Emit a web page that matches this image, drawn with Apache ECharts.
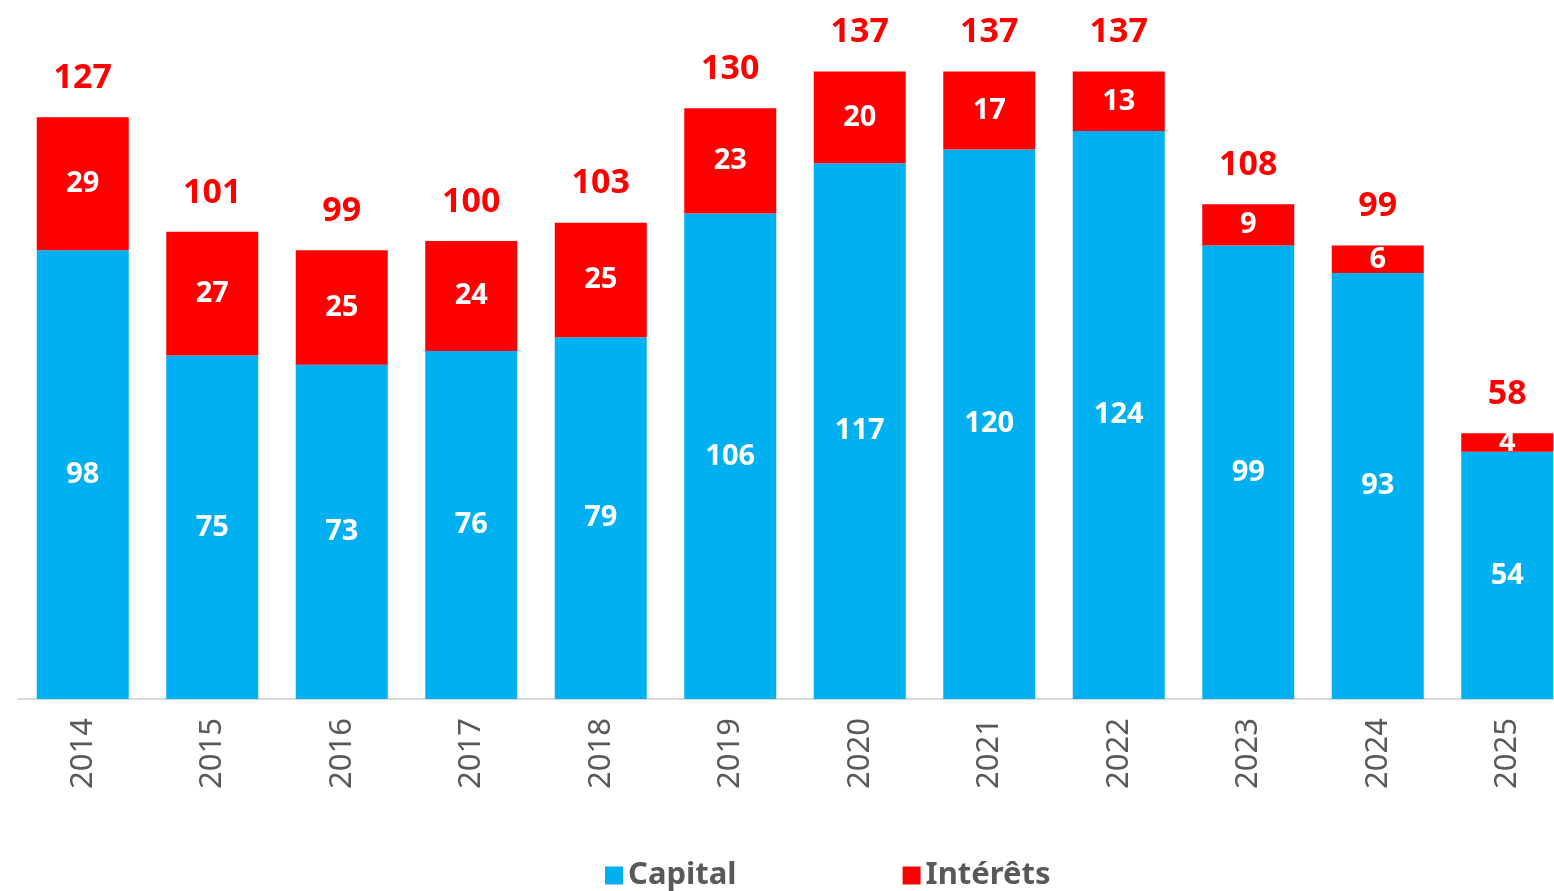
<!DOCTYPE html>
<html>
<head>
<meta charset="utf-8">
<script src="https://cdn.jsdelivr.net/npm/echarts@6/dist/echarts.min.js"></script>
<style>
  html, body { margin: 0; padding: 0; background: #fff; overflow: hidden; }
  /* le graphique source est coupé à droite : conteneur un peu plus large que la fenêtre */
  #chart { width: 1572px; height: 891px; }
</style>
</head>
<body>
<div id="chart"></div>
<script>
// années
var years = ['2014', '2015', '2016', '2017', '2018', '2019', '2020', '2021', '2022', '2023', '2024', '2025'];
// capital remboursé
var capital = [98, 75, 73, 76, 79, 106, 117, 120, 124, 99, 93, 54];
// intérêts
var interets = [29, 27, 25, 24, 25, 23, 20, 17, 13, 9, 6, 4];
// annuité totale (arrondie)
var totals = [127, 101, 99, 100, 103, 130, 137, 137, 137, 108, 99, 58];

var font = '"Noto Sans", "DejaVu Sans", sans-serif';

var chart = echarts.init(document.getElementById('chart'));
var option = {
    animation: false,
    textStyle: { fontFamily: font },
    legend: {
        data: ['Capital', 'Intérêts'],
        bottom: -5,
        left: 600,
        itemWidth: 18,
        itemHeight: 18,
        itemGap: 166,
        icon: 'rect',
        textStyle: { fontSize: 31, fontWeight: 'bold', color: '#595959', fontFamily: font }
    },
    grid: {
        left: 18,
        right: 0,
        top: 12,
        bottom: 192
    },
    xAxis: {
        type: 'category',
        data: years,
        axisLine: { lineStyle: { color: '#d9d9d9', width: 2 } },
        axisTick: { show: false },
        axisLabel: {
            rotate: 90,
            margin: 19,
            fontSize: 31,
            color: '#595959',
            fontFamily: font
        }
    },
    yAxis: {
        type: 'value',
        min: 0,
        max: 150,
        show: false,
        splitLine: { show: false }
    },
    series: [{
        name: 'Capital',
        type: 'bar',
        stack: 'annuite',
        barWidth: 92,
        data: capital,
        itemStyle: { color: '#00b0f0' },
        label: {
            show: true,
            position: 'inside',
            color: '#fff',
            fontSize: 29,
            fontWeight: 'bold',
            fontFamily: font
        }
    }, {
        name: 'Intérêts',
        type: 'bar',
        stack: 'annuite',
        barWidth: 92,
        data: interets,
        itemStyle: { color: '#ff0000' },
        label: {
            show: true,
            position: 'inside',
            color: '#fff',
            fontSize: 29,
            fontWeight: 'bold',
            fontFamily: font
        }
    }, {
        // série vide pour afficher le total au-dessus de la pile
        name: 'Total',
        type: 'bar',
        stack: 'annuite',
        barWidth: 92,
        data: years.map(function () { return 0; }),
        itemStyle: { color: 'transparent' },
        label: {
            show: true,
            position: 'top',
            distance: 22,
            color: '#ff0000',
            fontSize: 34,
            fontWeight: 'bold',
            fontFamily: font,
            formatter: function (params) {
                return totals[params.dataIndex];
            }
        }
    }]
};
chart.setOption(option);
</script>
</body>
</html>
